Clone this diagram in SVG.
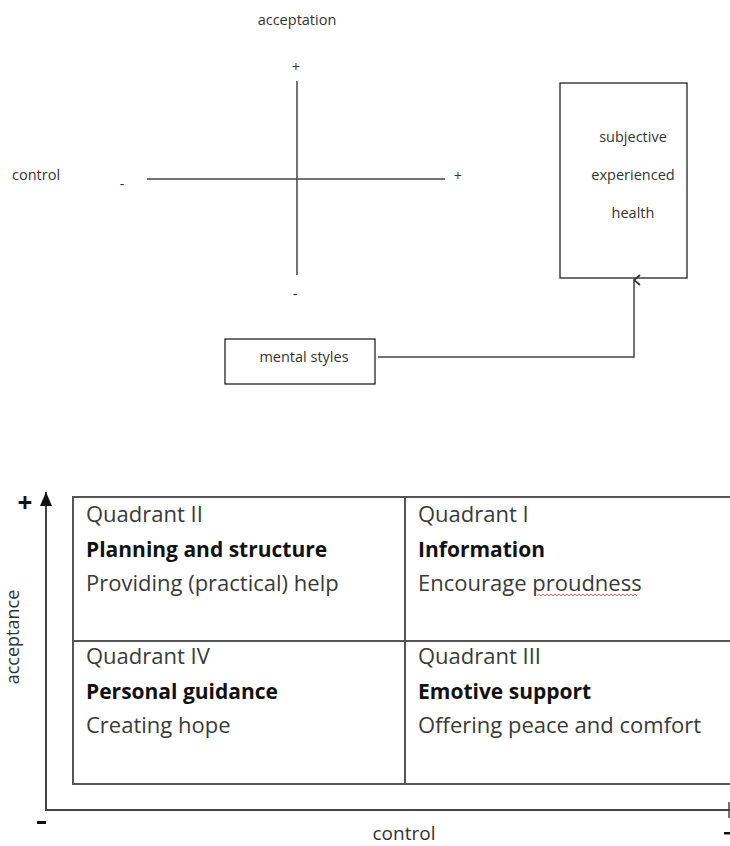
<svg xmlns="http://www.w3.org/2000/svg" width="730" height="846" viewBox="0 0 730 846">
<style>
.t{font-family:"Open Sans","Liberation Sans",sans-serif;fill:#333}
.s{font-size:14.5px}
.q{font-size:22px;fill:#3a3a3a}
.b{font-size:21px;font-weight:bold;fill:#111}
.ln{stroke:#444;stroke-width:1.5;fill:none}
.bx{stroke:#222;stroke-width:1.3;fill:#fff}
.tb{stroke:#555;stroke-width:2;fill:none}
</style>
<defs>
<marker id="open" viewBox="0 0 12 12" refX="6" refY="1" markerWidth="12" markerHeight="12" markerUnits="userSpaceOnUse" orient="auto-start-reverse">
<path d="M1,7 L6,1 L11,7" fill="none" stroke="#333" stroke-width="1.8"/>
</marker>
<marker id="fill" viewBox="0 0 12 14" refX="6" refY="0" markerWidth="12" markerHeight="14" markerUnits="userSpaceOnUse">
<path d="M0,14 L6,0 L12,14 Z" fill="#111"/>
</marker>
</defs>

<g id="top-axes">
<text class="t s" x="297" y="25" text-anchor="middle">acceptation</text>
<text class="t s" x="296" y="72" text-anchor="middle">+</text>
<line class="ln" x1="297" y1="81" x2="297" y2="275"/>
<line class="ln" x1="147" y1="179" x2="445" y2="179"/>
<text class="t s" x="458" y="181" text-anchor="middle">+</text>
<text class="t s" x="122" y="189" text-anchor="middle">-</text>
<text class="t s" x="295" y="299" text-anchor="middle">-</text>
<text class="t s" x="12" y="180">control</text>
</g>

<g id="node-health">
<rect class="bx" x="560" y="83" width="127" height="195"/>
<text class="t s" x="633" y="142" text-anchor="middle">subjective</text>
<text class="t s" x="633" y="180" text-anchor="middle">experienced</text>
<text class="t s" x="633" y="218" text-anchor="middle">health</text>
</g>

<g id="node-mental">
<rect class="bx" x="225" y="339" width="150" height="45"/>
<text class="t s" x="304" y="362" text-anchor="middle">mental styles</text>
</g>

<g id="connectors">
<path class="ln" d="M378,357 H634 V280" marker-end="url(#open)"/>
</g>

<g id="bottom-axes">
<line x1="46" y1="810" x2="46" y2="492" stroke="#444" stroke-width="2" marker-end="url(#fill)"/>
<line x1="45" y1="810" x2="730" y2="810" stroke="#444" stroke-width="2"/>
<line x1="729" y1="802" x2="729" y2="818" stroke="#444" stroke-width="1.5"/>
<text x="25" y="512" font-family="'Open Sans','Liberation Sans',sans-serif" font-size="26" font-weight="bold" fill="#111" text-anchor="middle">+</text>
<rect x="37" y="821" width="9" height="3" fill="#111"/>
<rect x="724" y="832" width="6" height="2.5" fill="#111"/>
<text class="t" font-size="19" x="404" y="840" text-anchor="middle">control</text>
<text class="t" font-size="18" transform="translate(19,637) rotate(-90)" text-anchor="middle">acceptance</text>
</g>

<g id="table">
<rect class="tb" x="73" y="497" width="680" height="287"/>
<line class="tb" x1="73" y1="641" x2="730" y2="641"/>
<line class="tb" x1="405" y1="497" x2="405" y2="784"/>
</g>

<g id="quadrant-II">
<text class="t q" x="86" y="522">Quadrant II</text>
<text class="t b" x="86" y="557">Planning and structure</text>
<text class="t q" x="86" y="591">Providing (practical) help</text>
</g>
<g id="quadrant-I">
<text class="t q" x="418" y="522">Quadrant I</text>
<text class="t b" x="418" y="557">Information</text>
<text class="t q" x="418" y="591">Encourage proudness</text>
<path d="M537,596 l2,-2 l2,2 l2,-2 l2,2 l2,-2 l2,2 l2,-2 l2,2 l2,-2 l2,2 l2,-2 l2,2 l2,-2 l2,2 l2,-2 l2,2 l2,-2 l2,2 l2,-2 l2,2 l2,-2 l2,2 l2,-2 l2,2 l2,-2 l2,2 l2,-2 l2,2 l2,-2 l2,2 l2,-2 l2,2 l2,-2 l2,2 l2,-2 l2,2 l2,-2 l2,2 l2,-2 l2,2 l2,-2 l2,2 l2,-2 l2,2 l2,-2 l2,2 l2,-2 l2,2 l2,-2 l2,2" fill="none" stroke="#d44" stroke-width="0.8"/>
</g>
<g id="quadrant-IV">
<text class="t q" x="86" y="664">Quadrant IV</text>
<text class="t b" x="86" y="699">Personal guidance</text>
<text class="t q" x="86" y="733">Creating hope</text>
</g>
<g id="quadrant-III">
<text class="t q" x="418" y="664">Quadrant III</text>
<text class="t b" x="418" y="699">Emotive support</text>
<text class="t q" x="418" y="733">Offering peace and comfort</text>
</g>
</svg>
